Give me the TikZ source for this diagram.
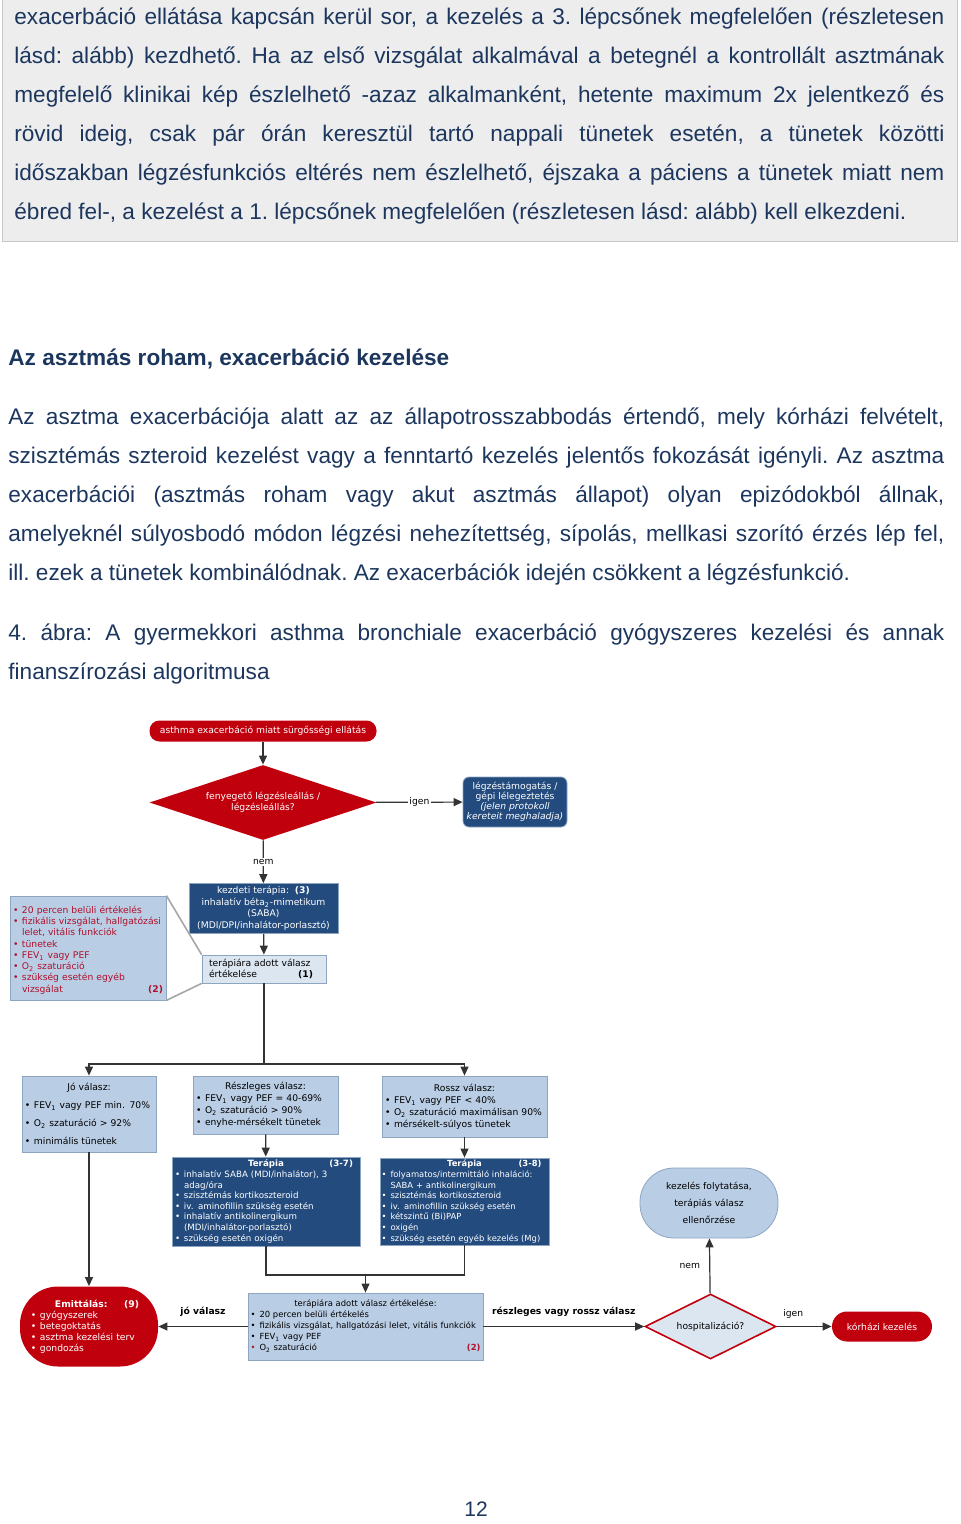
\documentclass[tikz,border=0pt]{standalone}
\usepackage{fontspec}
\setmainfont{Liberation Sans}
\newfontfamily\flowfont{DejaVu Sans}
\usetikzlibrary{shapes.geometric,arrows.meta}

\definecolor{bodytext}{HTML}{1C365E}
\definecolor{boxgray}{HTML}{EDEDED}
\definecolor{boxedge}{HTML}{C8C8C8}
\definecolor{exred}{HTML}{C1000D}
\definecolor{notered}{HTML}{B0102A}
\definecolor{exblue}{HTML}{234B7E}
\definecolor{exlight}{HTML}{B9CDE5}
\definecolor{expale}{HTML}{DCE6F1}
\definecolor{exedge}{HTML}{8EA5C2}

\newcommand{\fsize}[2]{\flowfont\fontsize{#1}{#2}\selectfont}
\newcommand{\pushright}{\hskip 0pt plus 1filll}
\newcommand{\bitem}[1]{\par\hangindent=4.5pt\hangafter=1\noindent\makebox[4.5pt][l]{\textbullet}#1}
\newcommand{\bitemc}[2]{\par\hangindent=4.5pt\hangafter=1\noindent\makebox[4.5pt][l]{\textcolor{#1}{\textbullet}}#2}

\tikzset{
  bodypar/.style={font=\fontsize{11.3}{19.5}\selectfont\frenchspacing, text=bodytext, align=justify, inner sep=0pt, anchor=base west},
  redbox/.style={rectangle, fill=exred, text=white, inner sep=1.5pt, align=center},
  darkbox/.style={rectangle, fill=exblue, draw=exedge, line width=0.4pt, text=white, inner sep=1.5pt, align=left},
  lightbox/.style={rectangle, fill=exlight, draw=exedge, line width=0.4pt, text=black, inner sep=1.5pt, align=left},
  conn/.style={draw=black!80, line width=0.6pt, -{Triangle[length=4.5pt,width=4pt]}},
  plain/.style={draw=black!80, line width=0.6pt},
  callline/.style={draw=black!35, line width=0.8pt},
  lab/.style={fill=white, inner sep=0.6pt, text=black, font=\fsize{4.6}{5.6}},
  boldlab/.style={inner sep=0.6pt, text=black, font=\fsize{4.6}{5.6}\bfseries, above=4pt}
}

\begin{document}
\begin{tikzpicture}[x=0.5pt, y=-0.5pt]
  \useasboundingbox (0,0) rectangle (960,1524);

  % text of the page
  \draw[fill=boxgray, draw=boxedge] (2,-5) rectangle (957,241);
  \node[bodypar, text width=465pt] (intro) at (14,25) {exacerbáció ellátása kapcsán kerül sor, a kezelés a 3. lépcsőnek megfelelően (részletesen\linebreak
    lásd: alább) kezdhető. Ha az első vizsgálat alkalmával a betegnél a kontrollált asztmának\linebreak
    megfelelő klinikai kép észlelhető -azaz alkalmanként, hetente maximum 2x jelentkező és\linebreak
    rövid ideig, csak pár órán keresztül tartó nappali tünetek esetén, a tünetek közötti\linebreak
    időszakban légzésfunkciós eltérés nem észlelhető, éjszaka a páciens a tünetek miatt nem\linebreak
    ébred fel-, a kezelést a 1. lépcsőnek megfelelően (részletesen lásd: alább) kell elkezdeni.};
  \node[font=\bfseries\fontsize{11.3}{12}\selectfont, text=bodytext, inner sep=0pt, anchor=base west] (head) at (8,365) {Az asztmás roham, exacerbáció kezelése};
  \node[bodypar, text width=468pt] (para) at (8,424) {Az asztma exacerbációja alatt az az állapotrosszabbodás értendő, mely kórházi felvételt,\linebreak
    szisztémás szteroid kezelést vagy a fenntartó kezelés jelentős fokozását igényli. Az asztma\linebreak
    exacerbációi (asztmás roham vagy akut asztmás állapot) olyan epizódokból állnak,\linebreak
    amelyeknél súlyosbodó módon légzési nehezítettség, sípolás, mellkasi szorító érzés lép fel,\linebreak
    ill. ezek a tünetek kombinálódnak. Az exacerbációk idején csökkent a légzésfunkció.};
  \node[bodypar, text width=468pt] (caption) at (8,640) {4. ábra: A gyermekkori asthma bronchiale exacerbáció gyógyszeres kezelési és annak\linebreak
    finanszírozási algoritmusa};
  \node[font=\fontsize{10.5}{12}\selectfont, text=bodytext, inner sep=0pt, anchor=base] (pagenum) at (476,1516) {12};

  % flowchart
  \node[redbox, rounded corners=5pt, minimum width=113.5pt, minimum height=10.5pt, font=\fsize{4.6}{5.6}] (start) at (263,731) {asthma exacerbáció miatt sürgősségi ellátás};
  \node[diamond, shape aspect=3, fill=exred, text=white, inner sep=0pt, minimum width=113.5pt, minimum height=37.5pt, align=center, font=\fsize{4.6}{5.6}] (threat) at (263,802.5) {fenyegető légzésleállás /\\légzésleállás?};
  \node[darkbox, rounded corners=3pt, align=center, minimum width=52pt, minimum height=25pt, font=\fsize{4.6}{5}] (assist) at (515,802) {légzéstámogatás /\\gépi lélegeztetés\\\textit{(jelen protokoll}\\\textit{kereteit meghaladja)}};
  \node[darkbox, align=center, minimum width=74.5pt, minimum height=24.5pt, font=\fsize{4.6}{5.75}] (initial) at (263.5,908.5) {kezdeti terápia:\ \ \textbf{(3)}\\inhalatív béta\textsubscript{2}-mimetikum\\(SABA)\\(MDI/DPI/inhalátor-porlasztó)};
  \node[lightbox, fill=expale, minimum width=62pt, minimum height=14pt, text width=55pt, font=\fsize{4.6}{5.6}] (eval1) at (264,969) {terápiára adott válasz\newline\makebox[\linewidth][l]{értékelése\hfill\textbf{(1)}\hspace{3pt}}};
  \node[lightbox, text=notered, minimum width=78pt, minimum height=52pt, text width=75pt, font=\fsize{4.6}{5.65}] (notes) at (88,948) {\bitem{20 percen belüli értékelés}\bitem{fizikális vizsgálat, hallgatózási\newline lelet, vitális funkciók}\bitem{tünetek}\bitem{FEV\textsubscript{1} vagy PEF}\bitem{O\textsubscript{2} szaturáció}\bitem{szükség esetén egyéb\newline vizsgálat\pushright\textbf{(2)}\hspace{3pt}}\par};

  \node[lightbox, minimum width=67pt, minimum height=38pt, text width=64pt, font=\fsize{4.6}{9}] (good) at (89,1114) {\makebox[\linewidth]{Jó válasz:}\bitem{FEV\textsubscript{1} vagy PEF min. 70\%}\bitem{O\textsubscript{2} szaturáció > 92\%}\bitem{minimális tünetek}\par};
  \node[lightbox, minimum width=72.5pt, minimum height=29pt, text width=69.5pt, font=\fsize{4.6}{6}] (partial) at (265.5,1105) {\makebox[\linewidth]{Részleges válasz:}\bitem{FEV\textsubscript{1} vagy PEF = 40-69\%}\bitem{O\textsubscript{2} szaturáció > 90\%}\bitem{enyhe-mérsékelt tünetek}\par};
  \node[lightbox, minimum width=82.5pt, minimum height=30.5pt, text width=79.5pt, font=\fsize{4.6}{6}] (poor) at (464.5,1106.5) {\makebox[\linewidth]{Rossz válasz:}\bitem{FEV\textsubscript{1} vagy PEF < 40\%}\bitem{O\textsubscript{2} szaturáció maximálisan 90\%}\bitem{mérsékelt-súlyos tünetek}\par};

  \node[darkbox, minimum width=94pt, minimum height=43.5pt, text width=91pt, font=\fsize{4.35}{5.3}] (ther1) at (266,1201.5) {\makebox[\linewidth]{\textbf{Terápia}}\llap{\textbf{(3-7)}\hspace{2pt}}\bitem{inhalatív SABA (MDI/inhalátor), 3\newline adag/óra}\bitem{szisztémás kortikoszteroid}\bitem{iv. aminofillin szükség esetén}\bitem{inhalatív antikolinergikum\newline (MDI/inhalátor-porlasztó)}\bitem{szükség esetén oxigén}\par};
  \node[darkbox, inner sep=0.75pt, minimum width=84.5pt, minimum height=43.5pt, text width=83pt, font=\fsize{4.2}{5.3}] (ther2) at (464.5,1201.5) {\makebox[\linewidth]{\textbf{Terápia}}\llap{\textbf{(3-8)}\hspace{3pt}}\bitem{folyamatos/intermittáló inhaláció:\newline SABA + antikolinergikum}\bitem{szisztémás kortikoszteroid}\bitem{iv. aminofillin szükség esetén}\bitem{kétszintű (Bi)PAP}\bitem{oxigén}\bitem{szükség esetén egyéb kezelés (Mg)}\par};

  \node[lightbox, minimum width=69pt, minimum height=35pt, rounded corners=17pt, align=center, font=\fsize{4.6}{8.5}] (cont) at (709,1203) {kezelés folytatása,\\terápiás válasz\\ellenőrzése};

  \node[redbox, rounded corners=19pt, align=left, minimum width=69pt, minimum height=40pt, text width=58pt, font=\fsize{4.6}{5.5}] (emit) at (89,1326.5) {\makebox[\linewidth][l]{\hspace{12pt}\textbf{Emittálás:}\hfill\textbf{(9)}\hspace{4pt}}\bitem{gyógyszerek}\bitem{betegoktatás}\bitem{asztma kezelési terv}\bitem{gondozás}\par};
  \node[lightbox, inner sep=1pt, minimum width=117.5pt, minimum height=33.5pt, text width=115pt, font=\fsize{4.2}{5.5}] (eval2) at (365.5,1326.5) {\makebox[\linewidth]{terápiára adott válasz értékelése:}\bitem{20 percen belüli értékelés}\bitem{fizikális vizsgálat, hallgatózási lelet, vitális funkciók}\bitem{FEV\textsubscript{1} vagy PEF}\bitemc{notered}{O\textsubscript{2} szaturáció\pushright\textcolor{notered}{\textbf{(2)}}\hspace{3pt}}\par};
  \node[diamond, shape aspect=2, fill=expale, draw=exred, line width=0.8pt, inner sep=0pt, minimum width=65.5pt, minimum height=32.5pt, font=\fsize{4.6}{5.6}] (hosp) at (710.5,1326.5) {hospitalizáció?};
  \node[redbox, rounded corners=7.5pt, minimum width=50pt, minimum height=15pt, font=\fsize{4.6}{5.6}] (hospital) at (882,1326.5) {kórházi kezelés};

  % connectors
  \coordinate (split) at (264,1064);
  \coordinate (merge) at (365.5,1275);
  \draw[conn] (start) -- (threat);
  \draw[conn] (threat) -- node[lab] {igen} (assist);
  \draw[conn] (threat) -- node[lab] {nem} (initial);
  \draw[conn] (initial) -- (eval1);
  \draw[callline] (notes.north east) -- (eval1.north west);
  \draw[callline] (notes.south east) -- (eval1.south west);
  \draw[plain] (eval1) -- (split);
  \draw[conn] (split) -| (good);
  \draw[conn] (split) -| (poor);
  \draw[conn] (partial) -- (ther1);
  \draw[conn] (poor) -- (ther2);
  \draw[plain] (ther1) |- (merge) -| (ther2);
  \draw[conn] (merge) -- (eval2);
  \draw[conn] (good) -- (emit);
  \draw[conn] (eval2) -- node[boldlab] {jó válasz} (emit);
  \draw[conn] (eval2) -- node[boldlab] {részleges vagy rossz válasz} (hosp);
  \draw[conn] (hosp) -- node[lab, fill=none, above=3pt, pos=0.3] {igen} (hospital);
  \draw[conn] (hosp) -- node[lab, fill=none, left=4pt] {nem} (cont);
\end{tikzpicture}
\end{document}
